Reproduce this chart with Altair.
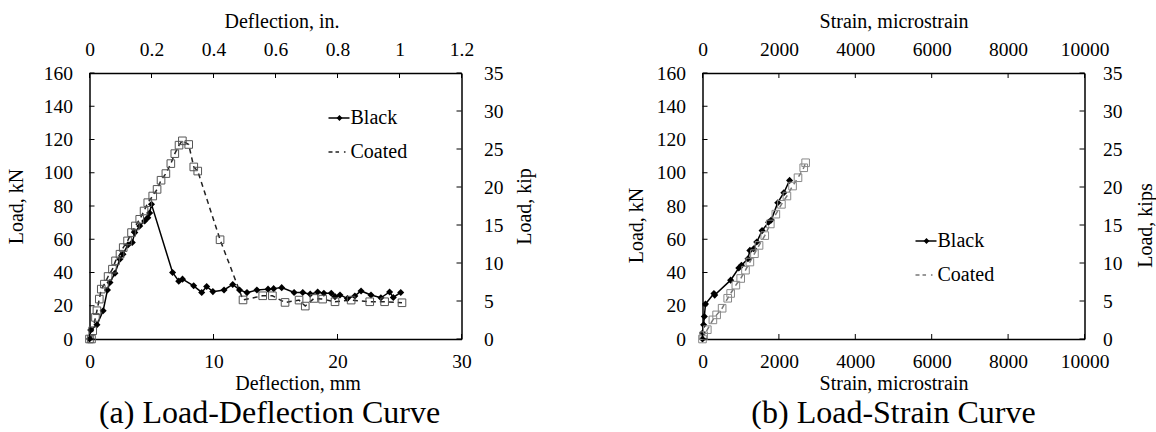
import altair as alt
import pandas as pd

FONT = "Liberation Serif, Times New Roman, serif"

# ---- Panel (a): Load-Deflection ----
black_defl_mm = [0, 0.1, 0.6, 1.1, 1.45, 1.65, 2.05, 2.45, 2.7, 3.1, 3.45, 3.65, 4.05, 4.45, 4.7, 4.85, 5.0,
                 6.7, 7.2, 7.5, 8.4, 9.05, 9.45, 9.95, 10.85, 11.55, 12.1, 12.7, 13.5, 14.4, 14.85, 15.5,
                 16.5, 17.2, 17.8, 18.4, 18.9, 19.5, 19.8, 20.2, 20.8, 21.4, 21.9, 22.7, 23.5, 24.2, 24.5, 25.1]
black_defl_kN = [0, 5.4, 8.6, 17, 29.5, 34, 39.6, 48, 51, 56.6, 58, 64, 68, 71, 73, 75.8, 81,
                 40, 34.8, 36, 32, 28, 31.6, 28.5, 29.5, 32.8, 29.5, 27.9, 29.5, 30, 30.3, 30.9,
                 28, 28, 27, 28.3, 27.5, 27.5, 25.5, 26.5, 24.4, 25.9, 28.9, 26.5, 24.8, 28.3, 25, 28]
coated_defl_mm = [0, 0.16, 0.26, 0.48, 0.6, 0.79, 0.95, 1.2, 1.5, 1.85, 2.1, 2.46, 2.72, 3.07, 3.39, 3.7,
                  4.05, 4.4, 4.7, 5.1, 5.45, 5.77, 6.16, 6.56, 6.88, 7.22, 7.49, 8.0, 8.41, 8.73, 10.53,
                  12.38, 13.97, 14.75, 15.77, 16.9, 17.4, 18.1, 18.8, 19.8, 21.1, 22.6, 23.8, 25.2]
coated_defl_kN = [0, 0, 5, 13, 17, 24, 30, 33, 37.6, 42, 47, 51, 55, 59, 64, 68,
                  72, 77, 82, 86, 90, 95.5, 99.5, 105.5, 111.5, 116.6, 119.2, 117, 103.5, 101, 59.7,
                  23.5, 26, 26, 22, 23.4, 19.8, 24.4, 24, 22.4, 23.4, 22.4, 22.4, 21.8]

# ---- Panel (b): Load-Strain ----
black_strain = [0, 0, 29, 48, 78, 300, 320, 737, 950, 1020, 1190, 1240, 1340, 1420, 1560, 1730, 1800,
                1970, 2130, 2280]
black_strain_kN = [0, 3.6, 8.5, 13.5, 21, 27.4, 26.4, 35.4, 42.7, 44.3, 48.3, 53.3, 54.3, 58.3, 65.2,
                   70.2, 71.6, 82, 88, 95.4]
coated_strain = [0, 30, 126, 272, 370, 514, 660, 737, 873, 1000, 1125, 1240, 1360, 1480, 1630, 1775,
                 1920, 2066, 2210, 2357, 2500, 2650, 2700]
coated_strain_kN = [0, 2, 5.6, 11.5, 14.5, 18.5, 24.5, 27.4, 32.4, 36.4, 41.4, 46.3, 51.3, 56.3, 62.2,
                    69.2, 75.1, 81, 86, 92, 97, 103, 106]

# ---- tick values ----
load_kN_ticks = [0, 20, 40, 60, 80, 100, 120, 140, 160]
load_kip_ticks = [0, 5, 10, 15, 20, 25, 30, 35]
defl_mm_ticks = [0, 10, 20, 30]
defl_in_ticks = [0, 0.2, 0.4, 0.6, 0.8, 1.0, 1.2]
strain_ticks = [0, 2000, 4000, 6000, 8000, 10000]
series_names = ["Black", "Coated"]


def df_xy(xs, ys):
    return pd.DataFrame({"x": xs, "y": ys, "i": list(range(len(xs)))})


def panel(bx, by, cx, cy, xdom, xvals, xfmt, xtitle, btitle_x,
          tdom, tvals, tfmt, ttitle, ttitle_x,
          rtitle, ytitle_y, W, H, cline, cpt, leg_x, leg_y, caption,
          l_tpad, r_lpad, r_tpad, cap_dx):
    TL = 5
    xsc = alt.Scale(domain=xdom, nice=False, zero=False)
    ysc = alt.Scale(domain=[0, 160], nice=False)
    xax = alt.Axis(values=xvals, format=xfmt, title=xtitle, orient="bottom", titleX=btitle_x,
                   labelPadding=13, titlePadding=3)
    yax = alt.Axis(values=load_kN_ticks, title="Load, kN", orient="left", titleY=ytitle_y,
                   labelPadding=17, titlePadding=l_tpad)
    X = alt.X("x:Q", scale=xsc, axis=xax)
    Y = alt.Y("y:Q", scale=ysc, axis=yax)

    dfb = df_xy(bx, by)
    dfc = df_xy(cx, cy)
    b_line = alt.Chart(dfb).mark_line(color="black", strokeWidth=1.5).encode(x=X, y=Y, order="i:Q")
    b_pts = alt.Chart(dfb).mark_point(shape="diamond", filled=True, size=50, color="black",
                                      opacity=1).encode(x=X, y=Y)
    c_line = alt.Chart(dfc).mark_line(color=cline, strokeWidth=1.5, strokeDash=[5, 4]).encode(
        x=X, y=Y, order="i:Q")
    c_pts = alt.Chart(dfc).mark_point(shape="square", filled=False, size=58, color=cpt,
                                      strokeWidth=1, opacity=1).encode(x=X, y=Y)
    bt = alt.Chart(pd.DataFrame({"x": xvals})).mark_rule(color="black").encode(
        x=X, y=alt.value(H), y2=alt.value(H - TL))
    lt = alt.Chart(pd.DataFrame({"y": load_kN_ticks})).mark_rule(color="black").encode(
        y=Y, x=alt.value(0), x2=alt.value(TL))
    inner = alt.layer(b_line, c_line, b_pts, c_pts, bt, lt)

    top = alt.Chart(pd.DataFrame({"t": tvals})).mark_rule(color="black").encode(
        x=alt.X("t:Q", scale=alt.Scale(domain=tdom, nice=False, zero=False),
                axis=alt.Axis(values=tvals, format=tfmt, title=ttitle, orient="top",
                              titleX=ttitle_x, labelPadding=14, titlePadding=8)),
        y=alt.value(0), y2=alt.value(TL))
    right = alt.Chart(pd.DataFrame({"r": load_kip_ticks})).mark_rule(color="black").encode(
        y=alt.Y("r:Q", scale=alt.Scale(domain=[0, 35], nice=False),
                axis=alt.Axis(values=load_kip_ticks, title=rtitle, orient="right",
                              titleY=ytitle_y, labelPadding=r_lpad, titlePadding=r_tpad,
                              titleAngle=270, titleBaseline="top")),
        x=alt.value(W), x2=alt.value(W - TL))

    one = alt.Data(values=[{}])
    lx0, lx1 = leg_x, leg_x + 21
    lm = leg_x + 11
    ly0, ly1 = leg_y, leg_y + 34
    leg = [
        alt.Chart(one).mark_rule(color="black", strokeWidth=1.5).encode(
            x=alt.value(lx0), x2=alt.value(lx1), y=alt.value(ly0)),
        alt.Chart(one).mark_point(shape="diamond", filled=True, size=34, color="black", opacity=1).encode(
            x=alt.value(lm), y=alt.value(ly0)),
        alt.Chart(one).mark_text(align="left", baseline="middle", font=FONT, fontSize=20,
                                 color="black").encode(
            x=alt.value(lx1 + 1), y=alt.value(ly0), text=alt.value(series_names[0])),
        alt.Chart(one).mark_rule(color=cline, strokeWidth=1.5, strokeDash=[4, 3]).encode(
            x=alt.value(lx0), x2=alt.value(lx1 - 4), y=alt.value(ly1)),
        alt.Chart(one).mark_point(shape="square", filled=True, fill="white", size=24, color=cpt,
                                  strokeWidth=1, opacity=1).encode(
            x=alt.value(lm + 2), y=alt.value(ly1)),
        alt.Chart(one).mark_text(align="left", baseline="middle", font=FONT, fontSize=20,
                                 color="black").encode(
            x=alt.value(lx1 + 1), y=alt.value(ly1), text=alt.value(series_names[1])),
    ]
    return alt.layer(inner, top, right, *leg).resolve_scale(
        x="independent", y="independent").properties(
        width=W, height=H,
        title=alt.TitleParams(caption, orient="bottom", offset=4.5, dx=cap_dx))


H = 266
left = panel(black_defl_mm, black_defl_kN, coated_defl_mm, coated_defl_kN,
             [0, 30], defl_mm_ticks, "d", "Deflection, mm", 208,
             [0, 1.2], defl_in_ticks, ".1~f", "Deflection, in.", 192,
             "Load, kip", H / 2, 372, H, "#222222", "#555555", 239, 45,
             "(a) Load-Deflection Curve", 16.5, 22, 11, -6)
right = panel(black_strain, black_strain_kN, coated_strain, coated_strain_kN,
              [0, 10000], strain_ticks, "d", "Strain, microstrain", 191,
              [0, 10000], strain_ticks, "d", "Strain, microstrain", 191,
              "Load, kips", H / 2 + 19, 382, H, "#777777", "#888888", 213, 168,
              "(b) Load-Strain Curve", 10, 18, 13, 0)

chart = alt.hconcat(left, right, spacing=91).properties(
    padding={"left": 6.5, "top": 11, "right": 0, "bottom": 0}
).configure_axis(
    labelFont=FONT, titleFont=FONT, labelFontSize=19.5, titleFontSize=20,
    titleFontWeight="normal", labelColor="black", titleColor="black",
    domainColor="black", domainWidth=1.5, ticks=False, grid=False,
    labelFlush=False, labelOverlap=False
).configure_title(
    font=FONT, fontSize=32, fontWeight="normal", color="black"
).configure_view(stroke=None)

chart.save("out.html", embed_options={"renderer": "svg", "actions": False})
